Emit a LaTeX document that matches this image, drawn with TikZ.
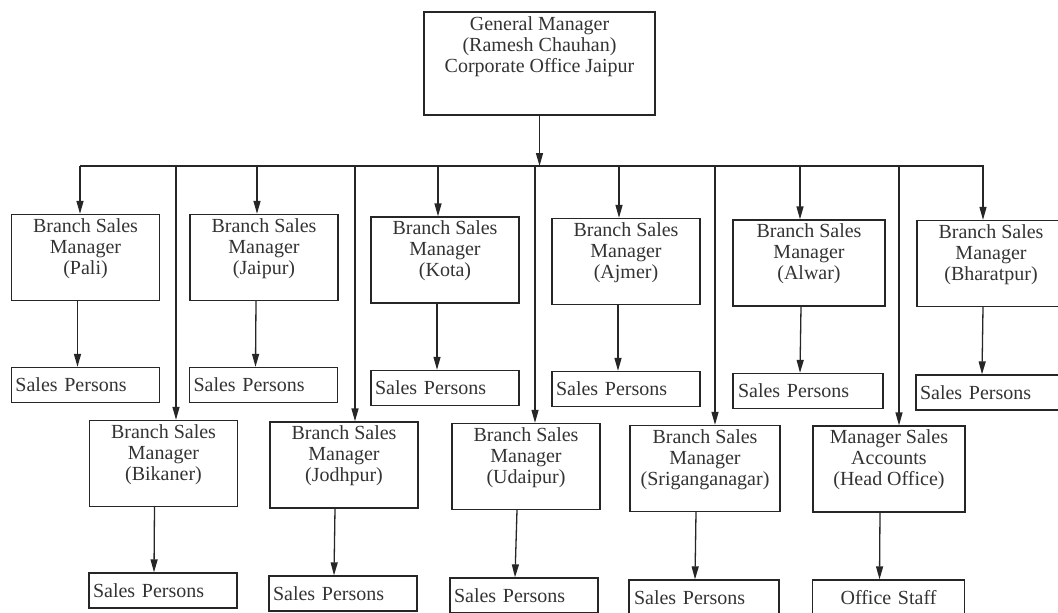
\documentclass[tikz,border=0pt]{standalone}
\usepackage{fontspec}
\setmainfont{Liberation Serif}
\usetikzlibrary{arrows.meta}
% text block set from the top of a box
\newcommand{\toptext}[3]{\parbox[c][#1][t]{#2}{\centering\strut #3}}

\begin{document}
\begin{tikzpicture}[x=1pt,y=-1pt,
  font=\fontsize{20}{21}\selectfont, line width=1.3pt, draw=black!85,
  mgr/.style={draw, inner sep=0pt, minimum width=148, minimum height=86, text=black!80},
  staff/.style={draw, inner xsep=3pt, inner ysep=0pt, minimum width=148, minimum height=35,
    text width=140pt, align=left, text=black!80},
  arr/.style={-{Triangle[length=13pt,width=7pt]}}]
\useasboundingbox (0,0) rectangle (1058,613);

\node[mgr, minimum width=231, minimum height=103] (gm) at (539.5,63.5)
  {\toptext{96pt}{225pt}{General Manager\\(Ramesh Chauhan)\\Corporate Office Jaipur}};

% first row of branches
\node[mgr] (pali) at (85.5,257.5) {\toptext{80pt}{144pt}{Branch Sales\\Manager\\(Pali)}};
\node[mgr] (jaipur) at (264,257.5) {\toptext{80pt}{144pt}{Branch Sales\\Manager\\(Jaipur)}};
\node[mgr] (kota) at (445,260) {\toptext{80pt}{144pt}{Branch Sales\\Manager\\(Kota)}};
\node[mgr] (ajmer) at (626,261.5) {\toptext{80pt}{144pt}{Branch Sales\\Manager\\(Ajmer)}};
\node[mgr, minimum width=152] (alwar) at (809,263) {\toptext{80pt}{144pt}{Branch Sales\\Manager\\(Alwar)}};
\node[mgr] (bharatpur) at (991,263.5) {\toptext{80pt}{144pt}{Branch Sales\\Manager\\(Bharatpur)}};

\node[staff] (spali) at (85.5,385) {Sales Persons};
\node[staff] (sjaipur) at (263.5,385) {Sales Persons};
\node[staff] (skota) at (445,388) {Sales Persons};
\node[staff] (sajmer) at (626,389) {Sales Persons};
\node[staff, minimum width=150] (salwar) at (808,391) {Sales Persons};
\node[staff] (sbharatpur) at (990,392.5) {Sales Persons};

% second row of branches
\node[mgr] (bikaner) at (163.5,463.5) {\toptext{80pt}{144pt}{Branch Sales\\Manager\\(Bikaner)}};
\node[mgr] (jodhpur) at (344,465) {\toptext{80pt}{144pt}{Branch Sales\\Manager\\(Jodhpur)}};
\node[mgr] (udaipur) at (526,466.5) {\toptext{80pt}{144pt}{Branch Sales\\Manager\\(Udaipur)}};
\node[mgr, minimum width=150] (sriganganagar) at (705,468.5) {\toptext{80pt}{146pt}{Branch Sales\\Manager\\(Sriganganagar)}};
\node[mgr, minimum width=152] (msa) at (889,469) {\toptext{80pt}{146pt}{Manager Sales\\Accounts\\(Head Office)}};

\node[staff] (sbikaner) at (163,590.5) {Sales Persons};
\node[staff] (sjodhpur) at (343,593.5) {Sales Persons};
\node[staff] (sudaipur) at (524,595.5) {Sales Persons};
\node[staff, minimum width=150] (ssriganganagar) at (704,597.5) {Sales Persons};
\node[staff, minimum width=152, align=center] (smsa) at (888.5,597.5) {Office Staff};

% connectors
\coordinate (busl) at (80,166);
\coordinate (busr) at (984,166);
\draw (busl) -- (busr);
\draw[arr] (gm) -- (gm |- busl);
\foreach \xx/\n in {80/pali, 257/jaipur, 438/kota, 619/ajmer, 800/alwar, 983/bharatpur}
  {\draw[arr] (\xx,166) -- (\n.north -| \xx,0);
   \draw[arr] ([xshift=-8pt]\n.south) -- ([xshift=-8pt]s\n.north);}
\foreach \xx/\n in {176/bikaner, 355/jodhpur, 535/udaipur, 715/sriganganagar, 899/msa}
  {\draw[arr] (\xx,166) -- (\n.north -| \xx,0);
   \draw[arr] ([xshift=-9pt]\n.south) -- ([xshift=-9pt]s\n.north);}
\end{tikzpicture}
\end{document}
